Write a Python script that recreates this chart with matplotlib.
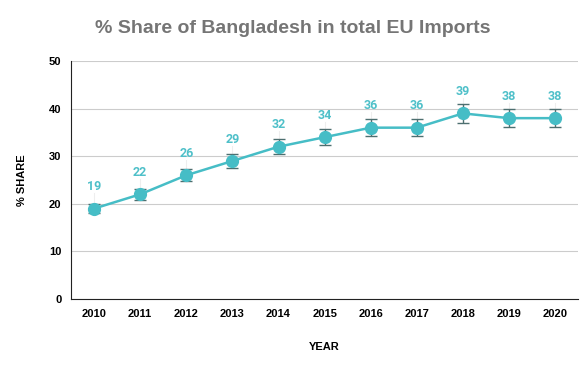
import matplotlib
matplotlib.use("Agg")
import matplotlib.pyplot as plt

years = ["2010", "2011", "2012", "2013", "2014", "2015", "2016", "2017", "2018", "2019", "2020"]
share = [19, 22, 26, 29, 32, 34, 36, 36, 39, 38, 38]
err = [0.95, 1.1, 1.3, 1.45, 1.6, 1.7, 1.8, 1.8, 1.95, 1.9, 1.9]
yticks = [0, 10, 20, 30, 40, 50]

TEAL = "#46bdc6"
LABEL = "#4fc0c9"

plt.rcParams["font.family"] = ["Liberation Sans", "DejaVu Sans"]

fig = plt.figure(figsize=(5.85, 3.71), dpi=100)
ax = fig.add_axes([0.1214, 0.194, 0.867, 0.6415])

x = list(range(len(years)))
ax.errorbar(x, share, yerr=err, color=TEAL, lw=1.8, marker="o", ms=8.5,
            ecolor="#4d6f70", elinewidth=1.0, capsize=4.5, capthick=1.0, zorder=3)

for xi, v in zip(x, share):
    ax.plot([xi, xi], [v + 1.2, v + 3.2], color="#eeeeee", lw=0.8, zorder=1)
    ax.annotate(str(v), (xi, v), xytext=(0, 11), textcoords="offset points",
                ha="center", va="bottom", color=LABEL, fontsize=9,
                fontweight="bold", family=["Roboto", "DejaVu Sans"])

ax.set_xlim(-0.5, len(years) - 0.5)
ax.set_ylim(0, 50)
ax.set_xticks(x)
ax.set_xticklabels(years)
ax.set_yticks(yticks)
ax.tick_params(length=0, labelsize=8, pad=7)
for lab in ax.get_xticklabels() + ax.get_yticklabels():
    lab.set_fontweight("bold")
ax.grid(axis="y", color="#cccccc", lw=0.8)
ax.set_axisbelow(True)
for s in ["top", "right"]:
    ax.spines[s].set_visible(False)
ax.spines["left"].set_color("#222222")
ax.spines["bottom"].set_color("#222222")

ax.set_xlabel("YEAR", fontsize=8, fontweight="bold", labelpad=17)
ax.set_ylabel("% SHARE", fontsize=8, fontweight="bold", labelpad=16)
fig.suptitle("% Share of Bangladesh in total EU Imports", x=0.5, y=0.945,
             fontsize=14, fontweight="bold", color="#757575")

fig.savefig("out.png", dpi=100)
